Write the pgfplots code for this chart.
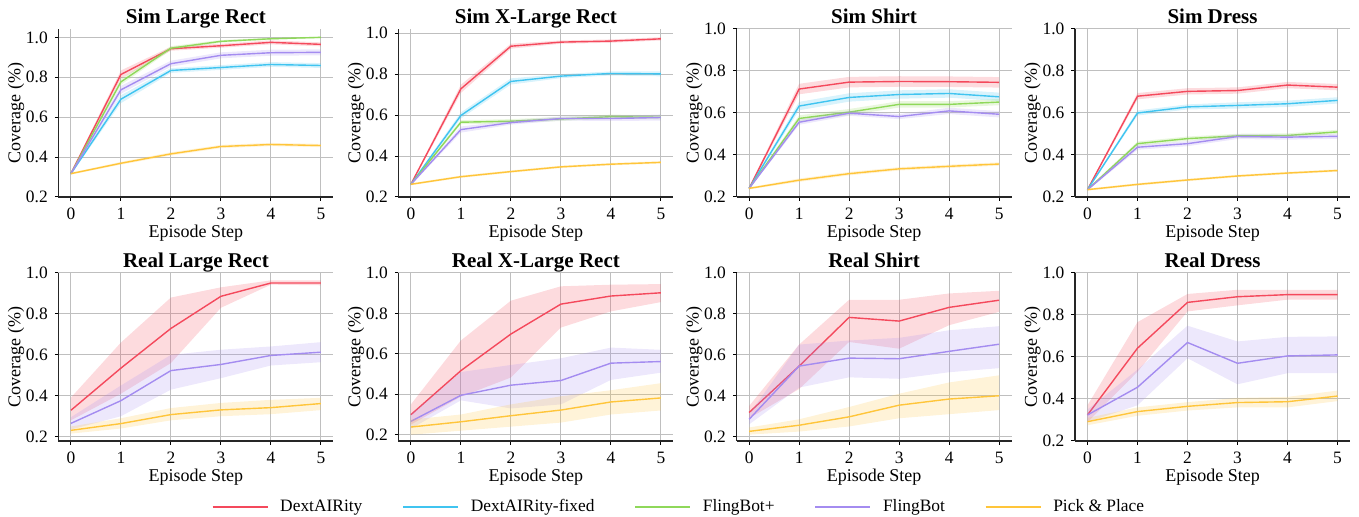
\documentclass[border=0pt]{standalone}
\usepackage{fontspec}
\setmainfont{Liberation Serif}
\usepackage{pgfplots}
\usepackage{pgfplotstable}
\pgfplotsset{compat=1.18}

\definecolor{cR}{HTML}{F4495C}
\definecolor{cB}{HTML}{40C4F0}
\definecolor{cG}{HTML}{8FD85A}
\definecolor{cP}{HTML}{A48CF0}
\definecolor{cY}{HTML}{FFC53A}

% mean tables: one column per method
% band tables: upper bound for x=0..5, then lower bound back from x=5..0
\pgfplotstableread{
x r b g p y
0 0.317 0.317 0.317 0.317 0.317
1 0.814 0.690 0.777 0.737 0.369
2 0.943 0.834 0.946 0.868 0.416
3 0.958 0.849 0.980 0.910 0.453
4 0.975 0.864 0.993 0.923 0.463
5 0.965 0.859 1.000 0.925 0.458
}\simLR
\pgfplotstableread{
x r b g p y
0 0.322 0.322 0.322 0.322 0.322
1 0.834 0.710 0.792 0.757 0.376
2 0.953 0.846 0.956 0.883 0.424
3 0.968 0.861 0.987 0.925 0.461
4 0.985 0.876 0.998 0.938 0.471
5 0.975 0.871 1.004 0.940 0.466
5 0.955 0.847 0.996 0.910 0.450
4 0.965 0.852 0.988 0.908 0.455
3 0.948 0.837 0.973 0.895 0.445
2 0.933 0.822 0.936 0.853 0.408
1 0.794 0.670 0.762 0.717 0.362
0 0.312 0.312 0.312 0.312 0.312
}\simLRband

\pgfplotstableread{
x r b g p y
0 0.262 0.262 0.262 0.262 0.262
1 0.728 0.598 0.565 0.529 0.299
2 0.936 0.764 0.570 0.563 0.324
3 0.956 0.790 0.581 0.583 0.347
4 0.961 0.803 0.592 0.583 0.360
5 0.972 0.801 0.589 0.588 0.369
}\simXL
\pgfplotstableread{
x r b g p y
0 0.267 0.267 0.267 0.267 0.267
1 0.748 0.613 0.575 0.544 0.305
2 0.948 0.779 0.580 0.573 0.330
3 0.964 0.800 0.591 0.593 0.353
4 0.969 0.813 0.602 0.595 0.366
5 0.980 0.813 0.599 0.603 0.375
5 0.964 0.789 0.579 0.573 0.363
4 0.953 0.793 0.582 0.571 0.354
3 0.948 0.780 0.571 0.573 0.341
2 0.924 0.749 0.560 0.553 0.318
1 0.708 0.583 0.555 0.514 0.293
0 0.257 0.257 0.257 0.257 0.257
}\simXLband

\pgfplotstableread{
x r b g p y
0 0.241 0.241 0.241 0.241 0.241
1 0.714 0.633 0.574 0.556 0.280
2 0.747 0.674 0.604 0.599 0.311
3 0.750 0.688 0.641 0.583 0.334
4 0.749 0.693 0.641 0.610 0.346
5 0.746 0.677 0.652 0.594 0.357
}\simShirt
\pgfplotstableread{
x r b g p y
0 0.246 0.246 0.246 0.246 0.246
1 0.739 0.653 0.589 0.568 0.288
2 0.772 0.694 0.619 0.611 0.319
3 0.775 0.708 0.656 0.595 0.342
4 0.774 0.713 0.656 0.625 0.354
5 0.771 0.697 0.667 0.609 0.365
5 0.721 0.657 0.637 0.579 0.349
4 0.724 0.673 0.626 0.595 0.338
3 0.725 0.668 0.626 0.571 0.326
2 0.722 0.654 0.589 0.587 0.303
1 0.689 0.613 0.559 0.544 0.272
0 0.236 0.236 0.236 0.236 0.236
}\simShirtband

\pgfplotstableread{
x r b g p y
0 0.235 0.235 0.235 0.235 0.235
1 0.680 0.600 0.454 0.437 0.260
2 0.703 0.629 0.478 0.454 0.281
3 0.707 0.636 0.491 0.488 0.300
4 0.733 0.644 0.493 0.485 0.314
5 0.723 0.660 0.510 0.489 0.326
}\simDress
\pgfplotstableread{
x r b g p y
0 0.240 0.240 0.240 0.240 0.240
1 0.695 0.612 0.464 0.449 0.266
2 0.718 0.641 0.488 0.466 0.287
3 0.722 0.651 0.501 0.500 0.306
4 0.748 0.659 0.503 0.497 0.320
5 0.738 0.675 0.520 0.501 0.332
5 0.708 0.645 0.500 0.477 0.320
4 0.718 0.629 0.483 0.473 0.308
3 0.692 0.621 0.481 0.476 0.294
2 0.688 0.617 0.468 0.442 0.275
1 0.665 0.588 0.444 0.425 0.254
0 0.230 0.230 0.230 0.230 0.230
}\simDressband

\pgfplotstableread{
x r p y
0 0.329 0.265 0.231
1 0.535 0.376 0.264
2 0.729 0.523 0.308
3 0.886 0.553 0.331
4 0.951 0.597 0.342
5 0.951 0.613 0.362
}\realLR
\pgfplotstableread{
x r p y
0 0.391 0.295 0.250
1 0.660 0.450 0.290
2 0.880 0.600 0.340
3 0.930 0.625 0.365
4 0.964 0.641 0.380
5 0.964 0.662 0.390
5 0.940 0.564 0.330
4 0.943 0.548 0.310
3 0.830 0.486 0.300
2 0.560 0.430 0.280
1 0.410 0.300 0.240
0 0.280 0.235 0.215
}\realLRband

\pgfplotstableread{
x r p y
0 0.299 0.266 0.238
1 0.517 0.395 0.264
2 0.698 0.445 0.294
3 0.846 0.468 0.322
4 0.886 0.554 0.362
5 0.902 0.562 0.382
}\realXL
\pgfplotstableread{
x r p y
0 0.350 0.300 0.275
1 0.666 0.510 0.300
2 0.863 0.545 0.350
3 0.934 0.578 0.390
4 0.942 0.631 0.420
5 0.945 0.620 0.455
5 0.856 0.507 0.320
4 0.810 0.471 0.300
3 0.730 0.350 0.260
2 0.483 0.330 0.240
1 0.388 0.370 0.220
0 0.250 0.230 0.200
}\realXLband

\pgfplotstableread{
x r p y
0 0.318 0.285 0.226
1 0.545 0.545 0.256
2 0.783 0.584 0.297
3 0.765 0.581 0.354
4 0.832 0.617 0.384
5 0.867 0.652 0.400
}\realShirt
\pgfplotstableread{
x r p y
0 0.350 0.310 0.245
1 0.650 0.650 0.285
2 0.869 0.670 0.345
3 0.869 0.683 0.410
4 0.900 0.720 0.465
5 0.913 0.740 0.500
5 0.810 0.535 0.330
4 0.745 0.515 0.310
3 0.630 0.483 0.290
2 0.663 0.490 0.250
1 0.433 0.440 0.225
0 0.290 0.260 0.210
}\realShirtband

\pgfplotstableread{
x r p y
0 0.324 0.324 0.292
1 0.642 0.456 0.340
2 0.860 0.669 0.365
3 0.887 0.570 0.383
4 0.897 0.605 0.387
5 0.897 0.610 0.414
}\realDress
\pgfplotstableread{
x r p y
0 0.370 0.350 0.310
1 0.766 0.540 0.360
2 0.900 0.749 0.385
3 0.920 0.674 0.405
4 0.920 0.696 0.410
5 0.920 0.698 0.440
5 0.873 0.523 0.390
4 0.873 0.523 0.360
3 0.846 0.470 0.360
2 0.817 0.594 0.345
1 0.530 0.370 0.320
0 0.290 0.290 0.275
}\realDressband

% band + mean line: #1 mean table, #2 band table, #3 colour, #4 column
\newcommand{\curve}[4]{%
  \addplot[fill=#3, fill opacity=0.2, draw=none, forget plot] table[x=x, y=#4] {#2};
  \addplot[#3, line width=0.7pt, forget plot] table[x=x, y=#4] {#1};
}

\pgfplotsset{
  panel/.style={
    scale only axis, width=137.5pt, height=84pt,
    anchor=south west,
    axis x line*=bottom, axis y line*=left,
    axis line style={black!85, line width=0.65pt},
    xmin=-0.25, xmax=5.25,
    xtick={0,1,2,3,4,5},
    ytick={0.2,0.4,0.6,0.8,1.0},
    grid=major,
    major grid style={gray!50, line width=0.5pt},
    tick align=outside, major tick length=1.8pt,
    tick style={black, line width=0.5pt},
    /pgf/number format/assume math mode=true,
    tick label style={font=\fontsize{8.7}{10}\selectfont},
    yticklabel style={/pgf/number format/fixed, /pgf/number format/fixed zerofill, /pgf/number format/precision=1},
    xlabel={Episode Step}, ylabel={Coverage (\%)},
    label style={font=\fontsize{9}{10}\selectfont},
    % the default title shift of 6pt is added to this yshift
    title style={font=\fontsize{10.5}{12}\selectfont\bfseries, at={(0.5,1)}, anchor=base, yshift=-3.4pt},
    xlabel style={at={(axis description cs:0.5,-0.213)}, anchor=center},
    ylabel style={at={(axis description cs:-0.154,0.5)}, anchor=center},
  },
}

\begin{document}
\begin{tikzpicture}
\useasboundingbox (0,0) rectangle (679.5pt,258.5pt);

\begin{axis}[panel, at={(29.2pt,160pt)}, ymin=0.2, ymax=1.042, title={Sim Large Rect}]
\curve{\simLR}{\simLRband}{cR}{r}
\curve{\simLR}{\simLRband}{cB}{b}
\curve{\simLR}{\simLRband}{cG}{g}
\curve{\simLR}{\simLRband}{cP}{p}
\curve{\simLR}{\simLRband}{cY}{y}
\end{axis}

\begin{axis}[panel, at={(199.2pt,160pt)}, ymin=0.2, ymax=1.02, title={Sim X-Large Rect}]
\curve{\simXL}{\simXLband}{cR}{r}
\curve{\simXL}{\simXLband}{cB}{b}
\curve{\simXL}{\simXLband}{cG}{g}
\curve{\simXL}{\simXLband}{cP}{p}
\curve{\simXL}{\simXLband}{cY}{y}
\end{axis}

\begin{axis}[panel, at={(368.3pt,160pt)}, ymin=0.2, ymax=1.0, title={Sim Shirt}]
\curve{\simShirt}{\simShirtband}{cR}{r}
\curve{\simShirt}{\simShirtband}{cB}{b}
\curve{\simShirt}{\simShirtband}{cG}{g}
\curve{\simShirt}{\simShirtband}{cP}{p}
\curve{\simShirt}{\simShirtband}{cY}{y}
\end{axis}

\begin{axis}[panel, at={(537.5pt,160pt)}, ymin=0.2, ymax=1.0, title={Sim Dress}]
\curve{\simDress}{\simDressband}{cR}{r}
\curve{\simDress}{\simDressband}{cB}{b}
\curve{\simDress}{\simDressband}{cG}{g}
\curve{\simDress}{\simDressband}{cP}{p}
\curve{\simDress}{\simDressband}{cY}{y}
\end{axis}

\begin{axis}[panel, at={(29.2pt,38pt)}, ymin=0.179, ymax=1.0, title={Real Large Rect}]
\curve{\realLR}{\realLRband}{cR}{r}
\curve{\realLR}{\realLRband}{cP}{p}
\curve{\realLR}{\realLRband}{cY}{y}
\end{axis}

\begin{axis}[panel, at={(199.2pt,38pt)}, ymin=0.169, ymax=1.0, title={Real X-Large Rect}]
\curve{\realXL}{\realXLband}{cR}{r}
\curve{\realXL}{\realXLband}{cP}{p}
\curve{\realXL}{\realXLband}{cY}{y}
\end{axis}

\begin{axis}[panel, at={(368.3pt,38pt)}, ymin=0.179, ymax=1.0, title={Real Shirt}]
\curve{\realShirt}{\realShirtband}{cR}{r}
\curve{\realShirt}{\realShirtband}{cP}{p}
\curve{\realShirt}{\realShirtband}{cY}{y}
\end{axis}

\begin{axis}[panel, at={(537.5pt,38pt)}, ymin=0.2, ymax=1.0, title={Real Dress}]
\curve{\realDress}{\realDressband}{cR}{r}
\curve{\realDress}{\realDressband}{cP}{p}
\curve{\realDress}{\realDressband}{cY}{y}
\end{axis}

% shared legend
\begin{axis}[at={(340pt,5pt)}, anchor=center, hide axis, scale only axis,
  width=1pt, height=1pt, xmin=0, xmax=1, ymin=0, ymax=1,
  legend columns=5,
  legend image code/.code={\draw[#1, line width=0.7pt] (0pt,0pt) -- (27.5pt,0pt);},
  legend style={at={(0.5,0.5)}, anchor=center, draw=none, fill=none,
    font=\fontsize{8.7}{10}\selectfont,
    /tikz/every odd column/.append style={column sep=4pt},
    /tikz/every even column/.append style={column sep=18pt}}]
\addlegendimage{cR}\addlegendentry{DextAIRity}
\addlegendimage{cB}\addlegendentry{DextAIRity-fixed}
\addlegendimage{cG}\addlegendentry{FlingBot+}
\addlegendimage{cP}\addlegendentry{FlingBot}
\addlegendimage{cY}\addlegendentry{Pick \& Place}
\end{axis}
\end{tikzpicture}
\end{document}
